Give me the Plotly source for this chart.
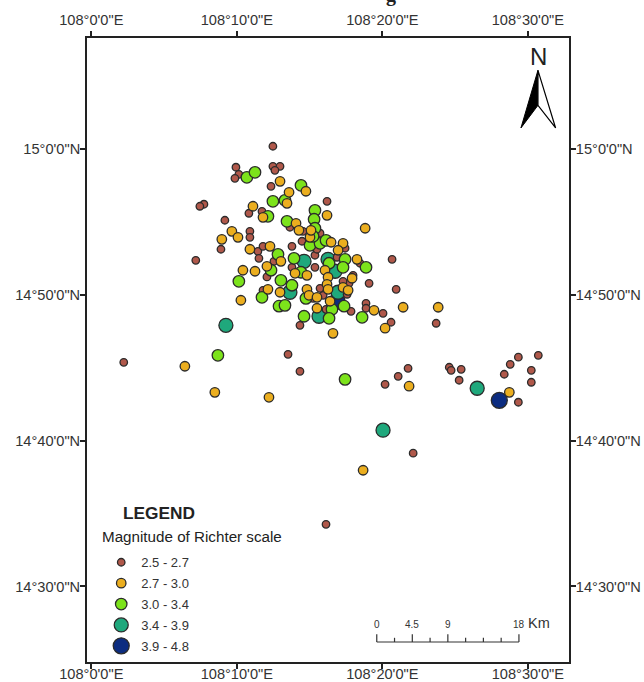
import plotly.graph_objects as go

# Values are arc-minutes: longitude past 108 deg E, latitude past 14 deg N
lon_a = [12.48,9.94,10.14,9.87,12.48,12.97,12.62,12.35,7.74,7.46,9.18,10.83,11.73,13.65,14.55,10.90,10.90,7.18,8.91,11.45,11.52,11.80,13.79,14.48,12.55,15.37,15.51,15.72,17.44,16.89,15.37,20.67,20.95,19.09,18.88,18.88,20.05,20.60,17.85,17.58,17.71,17.30,16.13,14.34,15.93,15.72,15.24,13.79,12.07,11.80,18.47,17.99,2.23,13.52,14.34,20.19,21.09,21.77,22.12,16.13,24.60,24.73,25.42,25.28,28.38,28.79,29.35,30.72,30.24,30.24,29.35,16.20,23.70]
lat_a = [60.21,58.77,58.28,58.01,58.83,58.83,58.56,57.46,56.23,56.09,55.13,55.61,55.74,54.65,54.37,54.37,53.96,52.38,53.14,53.00,52.52,53.34,53.34,53.69,52.31,52.73,53.14,54.24,53.21,52.59,51.90,52.45,50.39,50.80,49.43,49.09,48.74,48.13,48.88,50.05,50.80,50.94,49.02,47.92,49.98,50.46,49.77,51.90,51.24,50.32,52.18,51.35,45.38,45.93,44.76,43.87,44.42,44.97,39.14,34.26,45.04,44.83,44.90,44.15,44.56,45.24,45.73,45.86,44.83,44.01,42.64,56.43,48.06]
lon_b = [12.97,13.59,14.75,13.45,11.11,11.80,9.66,8.97,10.08,14.07,14.27,10.90,12.28,10.42,11.25,10.28,15.03,16.48,17.30,16.96,13.03,12.07,16.06,18.26,12.14,12.97,14.00,14.82,16.27,16.20,16.27,14.82,14.96,15.51,16.41,15.51,17.92,17.30,17.65,19.43,20.19,16.61,18.82,23.84,21.43,12.21,6.43,8.49,18.68,21.84,28.73,16.20,15.10]
lat_b = [57.80,57.05,57.12,56.29,56.09,55.33,54.37,53.82,53.96,54.92,54.44,53.14,53.34,51.70,51.63,49.64,53.96,53.62,53.55,53.07,52.31,51.97,51.70,52.45,50.39,50.19,51.49,51.35,51.22,50.73,50.39,50.39,49.98,49.84,49.57,49.09,51.15,50.52,50.32,48.95,47.72,47.37,54.58,49.16,49.16,42.98,45.11,43.32,37.97,43.74,43.32,55.47,54.44]
lon_c = [10.69,11.25,14.41,12.48,13.31,12.14,13.45,12.83,13.93,15.03,15.72,16.13,12.35,10.14,13.03,14.41,13.79,16.34,17.44,17.30,18.88,11.73,12.90,13.31,14.75,14.62,16.54,16.34,17.37,18.61,8.70,17.44,15.37,15.31,15.37,15.24]
lat_c = [58.08,58.42,57.53,56.43,56.50,55.40,55.06,52.79,52.52,53.41,53.55,53.75,51.70,50.94,51.01,51.56,50.67,52.18,52.45,51.90,51.90,49.84,49.23,49.29,49.77,48.54,49.02,48.40,49.23,48.47,45.86,44.21,55.81,55.20,54.58,54.03]
lon_d = [9.25,14.62,13.65,16.75,16.96,15.65,16.27,26.52,20.05]
lat_d = [47.92,52.31,50.19,51.63,50.19,48.54,52.45,43.60,40.72]
lon_e = [28.04,16.89]
lat_e = [42.77,49.57]

class_names = ["2.5 - 2.7", "2.7 - 3.0", "3.0 - 3.4", "3.4 - 3.9", "3.9 - 4.8"]
class_colors = ["#B0584A", "#EBAE1F", "#7CE31B", "#1FA87C", "#0C2C80"]
class_sizes = [7.5, 9.5, 11.5, 14, 16]

x_ticks = [0, 10, 20, 30]
x_labels = ['108°0\'0"E', '108°10\'0"E', '108°20\'0"E', '108°30\'0"E']
y_ticks = [60, 50, 40, 30]
y_labels = ['15°0\'0"N', '14°50\'0"N', '14°40\'0"N', '14°30\'0"N']

scale_km = [0, 4.5, 9, 18]
scale_divisions = [0, 2.25, 4.5, 6.75, 9, 11.25, 13.5, 15.75, 18]

FONT = "Liberation Sans"
TXT = "#333333"
X0, X1, Y0, Y1 = 87.3, 568.7, 37.7, 661.7
W, H = 644, 682
xr = [-0.296, 32.83]
yr = [24.81, 67.64]

def px(x):
    return (x - X0) / (X1 - X0)

def py(y):
    return 1 - (y - Y0) / (Y1 - Y0)

def label(text, x, y, size, color=TXT, xanchor="center", family=FONT):
    return dict(text=text, xref="paper", yref="paper", x=px(x), y=py(y), xanchor=xanchor, yanchor="middle",
                showarrow=False, font=dict(family=family, size=size, color=color))

fig = go.Figure()
series = [(lon_e, lat_e, 4), (lon_d, lat_d, 3), (lon_a, lat_a, 0), (lon_c, lat_c, 2), (lon_b, lat_b, 1)]
for lons, lats, i in series:
    fig.add_trace(go.Scatter(
        x=lons, y=lats, mode="markers", name=class_names[i],
        legendgroup=class_names[i], legendrank=i + 1,
        marker=dict(size=class_sizes[i], color=class_colors[i],
                    line=dict(color="#2B2B2B", width=1.3)),
        cliponaxis=False, hoverinfo="skip",
    ))
# Invisible trace so the mirrored top and right axes are drawn
fig.add_trace(go.Scatter(x=[x_ticks[0]], y=[y_ticks[0]], xaxis="x2", yaxis="y2", mode="markers",
                         marker=dict(opacity=0), showlegend=False, hoverinfo="skip"))

axis_common = dict(showgrid=False, zeroline=False, ticks="outside", ticklen=5, tickwidth=1.5, automargin=False,
                   tickcolor="#222222", showline=True, linecolor="#222222", linewidth=1.8,
                   tickfont=dict(family=FONT, size=14.6, color=TXT))

shapes = []
annotations = []
scale_x0, scale_per_km, scale_y = 376.7, (518.7 - 376.7) / 18, 641.7
line_style = dict(color="#333333", width=1.2)
shapes.append(dict(type="line", xref="paper", yref="paper", x0=px(scale_x0), x1=px(scale_x0 + 18 * scale_per_km),
                   y0=py(scale_y), y1=py(scale_y), line=line_style))
for km in scale_divisions:
    top = 634 if km in scale_km else 637.5
    sx = px(scale_x0 + km * scale_per_km)
    shapes.append(dict(type="line", xref="paper", yref="paper", x0=sx, x1=sx, y0=py(scale_y), y1=py(top), line=line_style))
for km in scale_km:
    annotations.append(label(f"{km:g}", scale_x0 + km * scale_per_km, 624.5, 10))
annotations.append(label("Km", 539, 623, 14.5))

# North arrow
def path(points, closed=True):
    s = "M " + " L ".join(f"{px(a):.4f},{py(b):.4f}" for a, b in points)
    return s + (" Z" if closed else "")

shapes.append(dict(type="path", xref="paper", yref="paper", path=path([(537.7, 70), (520.7, 127.7), (537.7, 105)]),
                   fillcolor="#000000", line=dict(color="#000000", width=1)))
shapes.append(dict(type="path", xref="paper", yref="paper", path=path([(537.7, 70), (555.3, 127.7), (537.7, 105)]),
                   fillcolor="#FFFFFF", line=dict(color="#000000", width=1.2)))
annotations.append(label("N", 538, 56, 24, "#222222"))
annotations.append(label("<b>LEGEND</b>", 121, 512.5, 17.3, "#222222", "left"))
annotations.append(label("Magnitude of Richter scale", 100.5, 536, 15.2, "#222222", "left"))
annotations.append(label("<b>g</b>", 391, -6, 20, "#222222", "center", "Liberation Serif"))

fig.update_layout(
    width=W, height=H, autosize=False,
    margin=dict(l=X0, r=W - X1, t=Y0, b=H - Y1, pad=0, autoexpand=False),
    paper_bgcolor="white", plot_bgcolor="white",
    showlegend=True,
    xaxis=dict(range=xr, tickmode="array", tickvals=x_ticks, ticktext=x_labels, side="bottom", ticklabelstandoff=-7, **axis_common),
    yaxis=dict(range=yr, tickmode="array", tickvals=y_ticks, ticktext=y_labels, side="left", ticklabelstandoff=-3, **axis_common),
    xaxis2=dict(range=xr, tickmode="array", tickvals=x_ticks, ticktext=x_labels, side="top", overlaying="x", anchor="y2", **axis_common),
    yaxis2=dict(range=yr, tickmode="array", tickvals=y_ticks, ticktext=y_labels, side="right", overlaying="y", anchor="x2", ticklabelstandoff=-3, **axis_common),
    legend=dict(x=px(101.5), y=py(547), xanchor="left", yanchor="top", bgcolor="rgba(0,0,0,0)",
                font=dict(family=FONT, size=13, color=TXT), traceorder="grouped", tracegroupgap=1,
                itemclick=False, itemdoubleclick=False),
    shapes=shapes, annotations=annotations,
)
fig.write_html("out.html", config={"displayModeBar": False},
               post_script="document.body.style.margin='0';document.documentElement.style.overflow='hidden';")
